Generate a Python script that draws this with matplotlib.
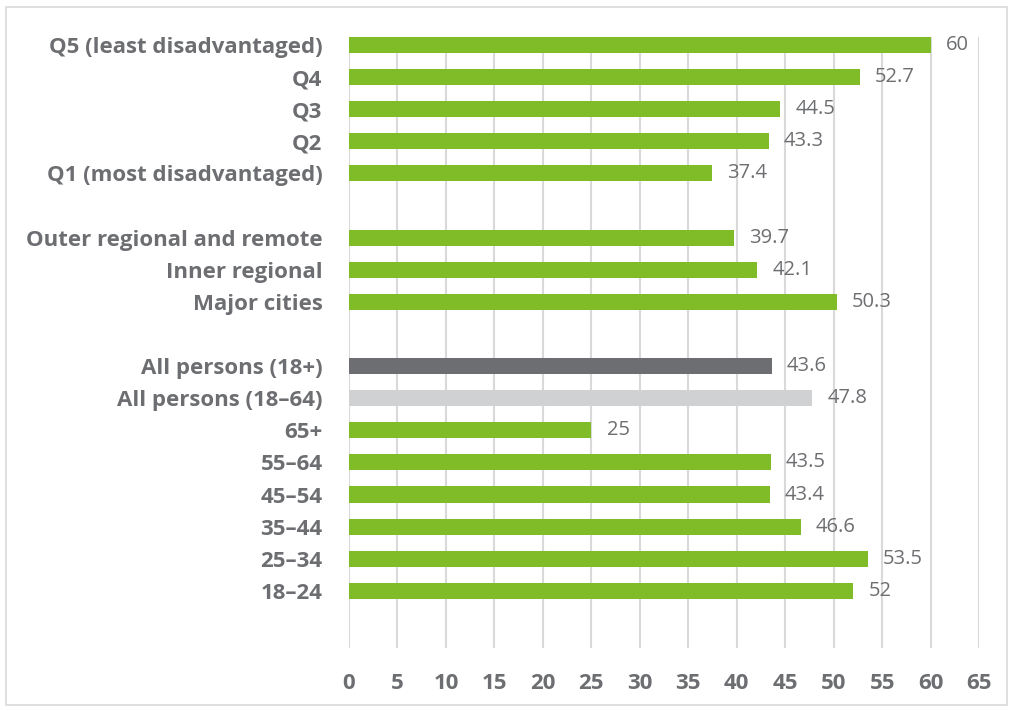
import numpy as np
import matplotlib.pyplot as plt
from matplotlib.patches import Rectangle

# data (top to bottom); None marks a blank spacer row
labels = ['Q5 (least disadvantaged)', 'Q4', 'Q3', 'Q2', 'Q1 (most disadvantaged)', None,
          'Outer regional and remote', 'Inner regional', 'Major cities', None,
          'All persons (18+)', 'All persons (18\u201364)', '65+', '55\u201364', '45\u201354',
          '35\u201344', '25\u201334', '18\u201324']
values = [60, 52.7, 44.5, 43.3, 37.4, None,
          39.7, 42.1, 50.3, None,
          43.6, 47.8, 25, 43.5, 43.4, 46.6, 53.5, 52]
value_text = ['60', '52.7', '44.5', '43.3', '37.4', None,
              '39.7', '42.1', '50.3', None,
              '43.6', '47.8', '25', '43.5', '43.4', '46.6', '53.5', '52']

GREEN = '#80bc28'
DARK = '#6d6e71'
LIGHT = '#d0d1d3'
TXT = '#6d6e71'
colors = [GREEN] * len(labels)
colors[10] = DARK
colors[11] = LIGHT

plt.rcParams['font.family'] = ['Open Sans', 'DejaVu Sans']

fig = plt.figure(figsize=(10.13, 7.11), dpi=100)
ax = fig.add_axes([0.3445, 0.0886, 0.622, 0.8594])

ypos = np.arange(len(labels))
idx = [i for i, v in enumerate(values) if v is not None]
ax.barh([ypos[i] for i in idx], [values[i] for i in idx], height=0.5,
        color=[colors[i] for i in idx], zorder=3)

for i in idx:
    ax.annotate(value_text[i], (values[i], ypos[i]), xytext=(11, 0),
                textcoords='offset points', va='center', ha='left',
                fontsize=14.5, color=TXT)

ax.set_yticks([ypos[i] for i in idx])
ax.set_yticklabels([labels[i] for i in idx], fontsize=16, fontweight='bold', color=TXT)
ax.set_ylim(len(labels) - 1 + 1.78, -0.25)

ax.set_xlim(0, 65)
ax.set_xticks(np.arange(0, 66, 5))
ax.tick_params(axis='x', labelsize=16, labelcolor=TXT, length=0, pad=18)
for lab in ax.get_xticklabels():
    lab.set_fontweight('bold')
ax.tick_params(axis='y', length=0, pad=19)

ax.grid(axis='x', color='#d9d9d9', linewidth=1.5, zorder=0)
for s in ax.spines.values():
    s.set_visible(False)

fig.patches.append(Rectangle((0.006, 0.008), 0.988, 0.982, transform=fig.transFigure,
                             fill=False, edgecolor='#d9d9d9', linewidth=1.2))

fig.savefig('out.png', dpi=100)
